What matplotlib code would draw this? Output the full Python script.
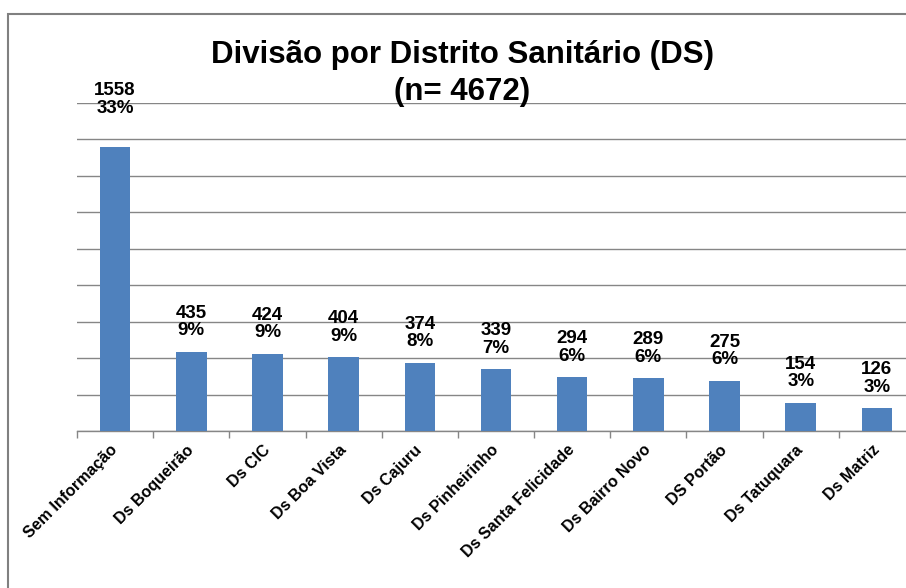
import matplotlib.pyplot as plt
import numpy as np
from matplotlib.patches import Rectangle


categories = ['Sem Informação', 'Ds Boqueirão', 'Ds CIC', 'Ds Boa Vista', 'Ds Cajuru',
              'Ds Pinheirinho', 'Ds Santa Felicidade', 'Ds Bairro Novo', 'DS Portão',
              'Ds Tatuquara', 'Ds Matriz']
counts = [1558, 435, 424, 404, 374, 339, 294, 289, 275, 154, 126]
percents = ['33%', '9%', '9%', '9%', '8%', '7%', '6%', '6%', '6%', '3%', '3%']
title = 'Divisão por Distrito Sanitário (DS)\n(n= 4672)'

BAR_COLOR = '#4F81BD'
GRID_COLOR = '#868686'

plt.rcParams['font.family'] = ['Liberation Sans', 'DejaVu Sans']

W, H = 906, 588
fig = plt.figure(figsize=(W / 100, H / 100), dpi=100)

# plot area runs past the right edge, like the cropped original
left, right, top, bottom = 77, 915, 103, 431
ax = fig.add_axes([left / W, 1 - bottom / H, (right - left) / W, (bottom - top) / H])

x = np.arange(len(categories))
ax.bar(x, counts, width=0.4, color=BAR_COLOR, zorder=3)

ax.set_xlim(-0.5, len(categories) - 0.5)
ax.set_ylim(0, 1800)
ax.set_yticks(np.arange(0, 1801, 200))
ax.yaxis.grid(True, color=GRID_COLOR, linewidth=1)
ax.tick_params(axis='y', left=False, labelleft=False)

for side in ('left', 'right', 'top'):
    ax.spines[side].set_visible(False)
ax.spines['bottom'].set_color(GRID_COLOR)
ax.spines['bottom'].set_linewidth(1)

ax.set_xticks(x)
ax.set_xticks(np.arange(-0.5, len(categories)), minor=True)
ax.tick_params(axis='x', which='major', length=0, pad=12)
ax.tick_params(axis='x', which='minor', length=5, color=GRID_COLOR, width=1)
ax.set_xticklabels(categories, rotation=45, ha='right', va='center',
                   rotation_mode='anchor', fontsize=11.5, fontweight='bold')

# data labels: first one sits higher in the original
offsets = [22] + [9] * (len(categories) - 1)
for xi, c, p, off in zip(x, counts, percents, offsets):
    ax.annotate(f'{c}\n{p}', (xi, c), xytext=(0, off), textcoords='offset points',
                ha='center', va='bottom', fontsize=13.5, fontweight='bold',
                linespacing=1.05, zorder=4)

# multi-line baseline alignment uses the last line
fig.text(462 / W, 1 - 100 / H, title, ha='center', va='baseline',
         fontsize=22.5, fontweight='bold', linespacing=1.3)

fig.add_artist(Rectangle((8 / W, -0.1), 1.2, (H - 14) / H + 0.1,
                         transform=fig.transFigure, fill=False,
                         edgecolor='#808080', linewidth=1.5))

fig.savefig('out.png', dpi=100)
